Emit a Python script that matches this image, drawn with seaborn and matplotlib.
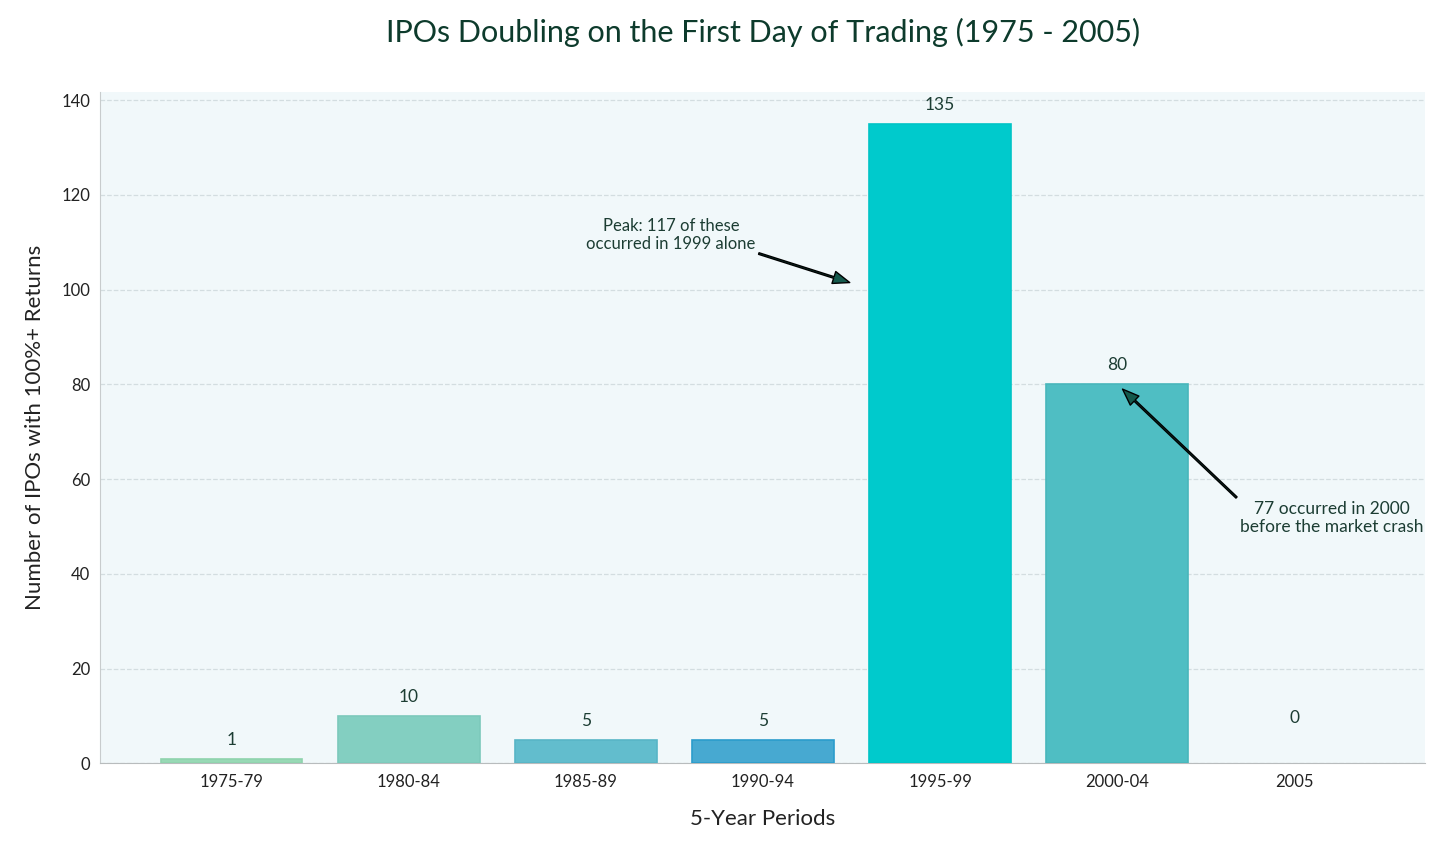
import pandas as pd
import seaborn as sns
import matplotlib.pyplot as plt

periods = ['1975-79', '1980-84', '1985-89', '1990-94', '1995-99', '2000-04', '2005']
counts = [1, 10, 5, 5, 135, 80, 0]
bar_colors = ['#98d9b5', '#83cfc1', '#62bdcd', '#47a9d1', '#00cacc', '#4fbec3', '#4fbec3']
edge_colors = ['#8fd3ad', '#7cc9bb', '#58b5c6', '#2b9ccc', '#00c4c6', '#48b6bb', '#48b6bb']

sns.set_style('white')
plt.rcParams['font.family'] = ['Lato', 'DejaVu Sans']

df = pd.DataFrame({'period': periods, 'count': counts})

fig, ax = plt.subplots(figsize=(14.56, 8.49), dpi=100)
ax.set_facecolor('#f1f8fa')
sns.barplot(data=df, x='period', y='count', hue='period', palette=bar_colors,
            saturation=1, legend=False, width=0.8, ax=ax, zorder=3)
for patch, ec, v in zip(ax.patches, edge_colors, counts):
    patch.set_edgecolor(ec)
    patch.set_linewidth(1.2 if v > 0 else 0)

ax.set_xlim(-0.74, 6.74)
ax.set_ylim(0, 141.8)
ax.set_yticks(range(0, 141, 20))
ax.grid(axis='y', linestyle='--', color='#d3dde0', linewidth=0.9, zorder=0)
ax.set_axisbelow(True)

for i, v in enumerate(counts):
    y = v if v > 0 else 5.5
    ax.text(i, y + 4, str(v), ha='center', va='center', fontsize=12.5, color='#1c3d33')

ax.annotate('Peak: 117 of these\noccurred in 1999 alone', xy=(3.49, 101.5), xytext=(2.48, 111.5),
            ha='center', va='center', fontsize=12, color='#1c3d33',
            arrowprops=dict(facecolor='#14594c', edgecolor='black', width=1.2,
                            headwidth=9, headlength=12, shrink=0.0))
ax.annotate('77 occurred in 2000\nbefore the market crash', xy=(5.03, 79.0), xytext=(6.21, 51.8),
            ha='center', va='center', fontsize=12.5, color='#1c3d33',
            arrowprops=dict(facecolor='#14594c', edgecolor='black', width=1.2,
                            headwidth=9, headlength=12, shrink=0.0))

sns.despine(ax=ax)
ax.spines['left'].set_color('#c8cccd')
ax.spines['bottom'].set_color('#b8bcbd')
ax.tick_params(axis='both', labelsize=12, length=4, color='#333333', labelcolor='#222222')

ax.set_title('IPOs Doubling on the First Day of Trading (1975 - 2005)', fontsize=22,
             color='#0d3b2c', pad=36)
ax.set_xlabel('5-Year Periods', fontsize=16, color='#222222', labelpad=14)
ax.set_ylabel('Number of IPOs with 100%+ Returns', fontsize=16, color='#222222', labelpad=12)

plt.subplots_adjust(left=0.069, right=0.979, top=0.892, bottom=0.101)
plt.savefig('out.png', dpi=100)
plt.close()
